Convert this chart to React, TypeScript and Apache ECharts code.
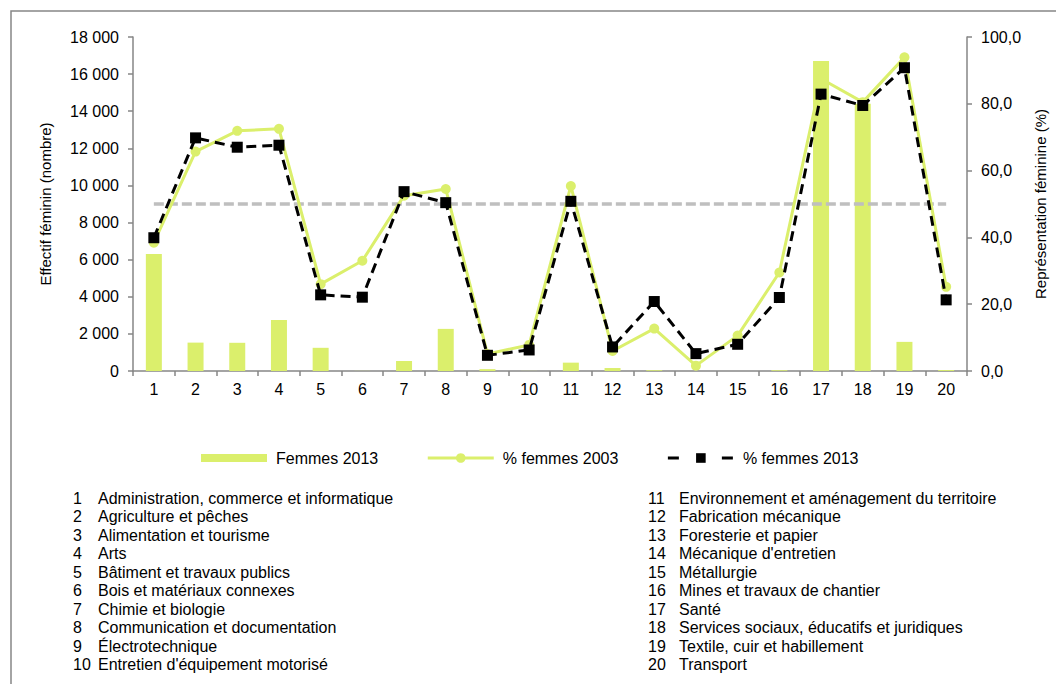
import React, { useEffect, useRef } from "react";
import * as echarts from "echarts";

const categories = ["1", "2", "3", "4", "5", "6", "7", "8", "9", "10", "11", "12", "13", "14", "15", "16", "17", "18", "19", "20"];
const categoryNames = [
  "Administration, commerce et informatique",
  "Agriculture et pêches",
  "Alimentation et tourisme",
  "Arts",
  "Bâtiment et travaux publics",
  "Bois et matériaux connexes",
  "Chimie et biologie",
  "Communication et documentation",
  "Électrotechnique",
  "Entretien d'équipement motorisé",
  "Environnement et aménagement du territoire",
  "Fabrication mécanique",
  "Foresterie et papier",
  "Mécanique d'entretien",
  "Métallurgie",
  "Mines et travaux de chantier",
  "Santé",
  "Services sociaux, éducatifs et juridiques",
  "Textile, cuir et habillement",
  "Transport",
];
const femmes2013 = [6300, 1530, 1520, 2750, 1250, 5, 540, 2270, 100, 5, 450, 160, 40, 0, 0, 40, 16700, 14400, 1570, 50];
const pctFemmes2003 = [38.4, 65.7, 71.9, 72.5, 26.0, 33.0, 52.5, 54.5, 5.1, 7.8, 55.4, 6.0, 12.7, 1.6, 10.6, 29.5, 87.5, 80.5, 93.9, 25.2];
const pctFemmes2013 = [39.9, 69.8, 67.0, 67.6, 22.8, 22.1, 53.7, 50.4, 4.7, 6.3, 50.8, 7.2, 20.8, 5.2, 8.0, 22.0, 82.9, 79.5, 90.8, 21.3];
const parityLevel = 50;
const seriesNames = ["Femmes 2013", "% femmes 2003", "% femmes 2013"];
const leftAxisName = "Effectif féminin (nombre)";
const rightAxisName = "Représentation féminine (%)";

const FONT = "'Liberation Sans', Arial, sans-serif";
const GREEN = "#dbef6c";
const AXIS_GRAY = "#868686";

function fmtThousands(v: number): string {
  return String(v).replace(/\B(?=(\d{3})+(?!\d))/g, " ");
}

export default function App() {
  const ref = useRef<HTMLDivElement>(null);
  useEffect(() => {
    document.body.style.margin = "0";
    if (!ref.current) return;
    const chart = echarts.init(ref.current, undefined, { renderer: "svg" });

    const listElems: any[] = [];
    categoryNames.forEach((name, i) => {
      const col = i < 10 ? 0 : 1;
      const row = i % 10;
      const y = 498 + row * 18.5;
      const numX = col === 0 ? 73 : 648;
      const txtX = col === 0 ? 98 : 679;
      listElems.push({
        type: "text",
        x: numX,
        y,
        style: { text: categories[i], font: `16px ${FONT}`, fill: "#000", textVerticalAlign: "middle", textAlign: "left" },
      });
      listElems.push({
        type: "text",
        x: txtX,
        y,
        style: { text: name, font: `16px ${FONT}`, fill: "#000", textVerticalAlign: "middle", textAlign: "left" },
      });
    });

    const axisLine = { show: true, lineStyle: { color: AXIS_GRAY, width: 1.5 } };
    const axisTick = { show: true, length: 5, lineStyle: { color: AXIS_GRAY, width: 1.5 } };

    chart.setOption({
      animation: false,
      textStyle: { fontFamily: FONT },
      grid: { left: 133, right: 88, top: 37, bottom: 313, containLabel: false },
      legend: {
        data: [
          { name: seriesNames[0], icon: "path://M0,0H66V8H0Z" },
          { name: seriesNames[1], lineStyle: { width: 3 } },
          { name: seriesNames[2], lineStyle: { width: 3, type: [11, 43] } },
        ],
        left: 201,
        top: 450,
        padding: 0,
        itemWidth: 66,
        itemHeight: 12,
        itemGap: 48,
        symbolKeepAspect: true,
        lineStyle: { width: 3 },
        textStyle: { fontSize: 16, color: "#000", fontFamily: FONT, padding: [0, 0, 0, 4] },
      },
      xAxis: {
        type: "category",
        data: categories,
        boundaryGap: true,
        axisLine,
        axisTick,
        axisLabel: { fontSize: 16, color: "#000", margin: 10, fontFamily: FONT },
        splitLine: { show: false },
      },
      yAxis: [
        {
          type: "value",
          min: 0,
          max: 18000,
          interval: 2000,
          position: "left",
          name: leftAxisName,
          nameLocation: "middle",
          nameGap: 80,
          nameTextStyle: { fontSize: 15, color: "#000", fontFamily: FONT },
          axisLine,
          axisTick,
          axisLabel: { fontSize: 16, color: "#000", margin: 14, fontFamily: FONT, formatter: (v: number) => fmtThousands(v) },
          splitLine: { show: false },
        },
        {
          type: "value",
          min: 0,
          max: 100,
          interval: 20,
          position: "right",
          name: rightAxisName,
          nameLocation: "middle",
          nameRotate: 90,
          nameGap: 66,
          nameTextStyle: { fontSize: 15, color: "#000", fontFamily: FONT },
          axisLine,
          axisTick,
          axisLabel: { fontSize: 16, color: "#000", margin: 14, fontFamily: FONT, formatter: (v: number) => v.toFixed(1).replace(".", ",") },
          splitLine: { show: false },
        },
      ],
      series: [
        {
          name: seriesNames[0],
          type: "bar",
          yAxisIndex: 0,
          data: femmes2013,
          barWidth: 16,
          itemStyle: { color: GREEN },
          z: 1,
        },
        {
          name: seriesNames[1],
          type: "line",
          yAxisIndex: 1,
          data: pctFemmes2003,
          symbol: "circle",
          symbolSize: 10,
          lineStyle: { color: GREEN, width: 3 },
          itemStyle: { color: GREEN },
          z: 3,
          markLine: {
            silent: true,
            symbol: "none",
            label: { show: false },
            lineStyle: { color: "#bfbfbf", width: 3.5, type: [10, 4] },
            data: [[{ coord: [categories[0], parityLevel] }, { coord: [categories[categories.length - 1], parityLevel] }]],
            z: 2,
          },
        },
        {
          name: seriesNames[2],
          type: "line",
          yAxisIndex: 1,
          data: pctFemmes2013,
          symbol: "rect",
          symbolSize: 11,
          lineStyle: { color: "#000", width: 3, type: [10, 6] },
          itemStyle: { color: "#000" },
          z: 4,
        },
      ],
      graphic: [
        {
          type: "rect",
          shape: { x: 11, y: 11, width: 1100, height: 700 },
          style: { fill: "none", stroke: AXIS_GRAY, lineWidth: 1.5 },
          silent: true,
          z: -10,
        },
        ...listElems,
      ],
    });
    return () => chart.dispose();
  }, []);
  return <div ref={ref} style={{ width: 1056, height: 684 }} />;
}
